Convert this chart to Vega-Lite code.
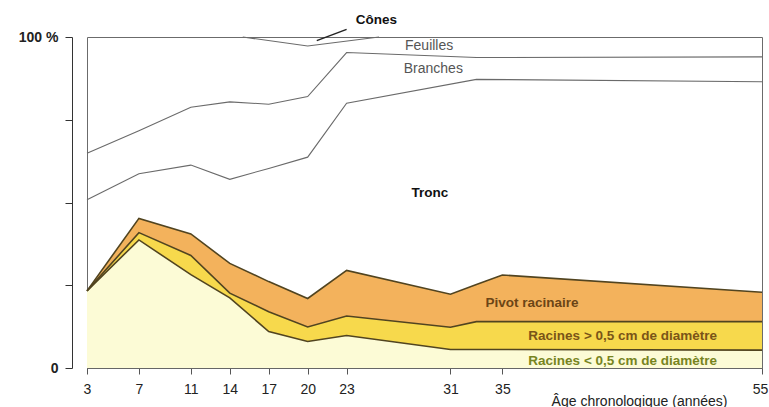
{
  "$schema": "https://vega.github.io/schema/vega-lite/v6.json",
  "width": 675,
  "height": 331,
  "autosize": {"type": "none"},
  "padding": {"left": 87, "top": 37, "right": 7, "bottom": 39},
  "background": "white",
  "config": {
    "view": {"stroke": "#6b6b6b", "strokeWidth": 1},
    "font": "Liberation Sans"
  },
  "datasets": {
    "racines": [
      {"age": 3, "s": "r1", "v": 23.3}, {"age": 7, "s": "r1", "v": 38.7}, {"age": 11, "s": "r1", "v": 28.2},
      {"age": 14, "s": "r1", "v": 21.2}, {"age": 17, "s": "r1", "v": 11.0}, {"age": 20, "s": "r1", "v": 8.0},
      {"age": 23, "s": "r1", "v": 9.8}, {"age": 31, "s": "r1", "v": 5.6}, {"age": 33, "s": "r1", "v": 5.6},
      {"age": 35, "s": "r1", "v": 5.6}, {"age": 55, "s": "r1", "v": 5.4},
      {"age": 3, "s": "r2", "v": 23.3}, {"age": 7, "s": "r2", "v": 40.9}, {"age": 11, "s": "r2", "v": 34.0},
      {"age": 14, "s": "r2", "v": 22.6}, {"age": 17, "s": "r2", "v": 17.0}, {"age": 20, "s": "r2", "v": 12.4},
      {"age": 23, "s": "r2", "v": 15.7}, {"age": 31, "s": "r2", "v": 12.3}, {"age": 33, "s": "r2", "v": 14.0},
      {"age": 35, "s": "r2", "v": 14.0}, {"age": 55, "s": "r2", "v": 14.0},
      {"age": 3, "s": "r3", "v": 23.3}, {"age": 7, "s": "r3", "v": 45.2}, {"age": 11, "s": "r3", "v": 40.5},
      {"age": 14, "s": "r3", "v": 31.6}, {"age": 17, "s": "r3", "v": 26.1}, {"age": 20, "s": "r3", "v": 21.0},
      {"age": 23, "s": "r3", "v": 29.5}, {"age": 31, "s": "r3", "v": 22.3}, {"age": 33, "s": "r3", "v": 25.2},
      {"age": 35, "s": "r3", "v": 28.1}, {"age": 55, "s": "r3", "v": 22.9}
    ],
    "haut": [
      {"age": 3, "s": "tronc", "v": 50.8}, {"age": 7, "s": "tronc", "v": 58.7}, {"age": 11, "s": "tronc", "v": 61.3},
      {"age": 14, "s": "tronc", "v": 57.0}, {"age": 17, "s": "tronc", "v": 60.3}, {"age": 20, "s": "tronc", "v": 63.7},
      {"age": 23, "s": "tronc", "v": 80.0}, {"age": 33, "s": "tronc", "v": 87.2}, {"age": 55, "s": "tronc", "v": 86.5},
      {"age": 3, "s": "branches", "v": 64.9}, {"age": 7, "s": "branches", "v": 71.7}, {"age": 11, "s": "branches", "v": 78.8},
      {"age": 14, "s": "branches", "v": 80.4}, {"age": 17, "s": "branches", "v": 79.7}, {"age": 20, "s": "branches", "v": 82.0},
      {"age": 23, "s": "branches", "v": 95.3}, {"age": 33, "s": "branches", "v": 93.8}, {"age": 55, "s": "branches", "v": 94.0},
      {"age": 15, "s": "cones", "v": 100}, {"age": 20, "s": "cones", "v": 97.3}, {"age": 25.5, "s": "cones", "v": 100}
    ],
    "labels": [
      {"label": "Feuilles", "age": 27.5, "pct": 97.4},
      {"label": "Branches", "age": 27.4, "pct": 90.2},
      {"label": "Tronc", "age": 28.0, "pct": 52.8},
      {"label": "Cônes", "age": 23.7, "pct": 105.1},
      {"label": "Pivot racinaire", "age": 33.7, "pct": 19.5},
      {"label": "Racines > 0,5 cm de diamètre", "age": 37.0, "pct": 9.8},
      {"label": "Racines < 0,5 cm de diamètre", "age": 37.0, "pct": 2.2}
    ],
    "fleche": [
      {"age": 20.7, "pct": 98.9, "age2": 23.0, "pct2": 102.3}
    ]
  },
  "layer": [
    {
      "data": {"name": "racines"},
      "transform": [{"pivot": "s", "value": "v", "groupby": ["age"]}],
      "layer": [
        {
          "mark": {"type": "area", "color": "#fcfbd6"},
          "encoding": {
            "x": {
              "field": "age", "type": "quantitative",
              "scale": {"domain": [3, 55], "nice": false, "zero": false},
              "title": "Âge chronologique (années)",
              "axis": {
                "values": [3, 7, 11, 14, 17, 20, 23, 31, 35, 55],
                "grid": false, "tickSize": 6, "tickColor": "#555", "domainColor": "#666",
                "labelFontSize": 14, "labelColor": "#222", "labelPadding": 8, "labelFlush": false,
                "labelOffset": {"expr": "datum.value == 55 ? -2 : 0"},
                "titleFontSize": 14, "titleFontWeight": "normal", "titleColor": "#222",
                "titleX": 640, "titleY": 33, "titleAlign": "right", "titleBaseline": "middle", "titleAnchor": null
              }
            },
            "y": {
              "field": "r1", "type": "quantitative",
              "scale": {"domain": [0, 100], "nice": false},
              "title": null,
              "axis": {
                "values": [0, 25, 50, 75, 100], "offset": 15, "grid": false,
                "tickSize": 7, "tickColor": "#333", "domainColor": "#333",
                "labelExpr": "datum.value == 100 ? '100 %' : (datum.value == 0 ? '0' : '')",
                "labelFontSize": 14, "labelFontWeight": "bold", "labelColor": "#222", "labelPadding": 7
              }
            },
            "y2": {"datum": 0}
          }
        },
        {
          "mark": {"type": "area", "color": "#f7d94c"},
          "encoding": {
            "x": {"field": "age", "type": "quantitative", "scale": {"domain": [3, 55]}},
            "y": {"field": "r2", "type": "quantitative", "scale": {"domain": [0, 100]}},
            "y2": {"field": "r1"}
          }
        },
        {
          "mark": {"type": "area", "color": "#f3b25c"},
          "encoding": {
            "x": {"field": "age", "type": "quantitative", "scale": {"domain": [3, 55]}},
            "y": {"field": "r3", "type": "quantitative", "scale": {"domain": [0, 100]}},
            "y2": {"field": "r2"}
          }
        }
      ]
    },
    {
      "data": {"name": "racines"},
      "mark": {"type": "line", "color": "#514420", "strokeWidth": 1.6},
      "encoding": {
        "x": {"field": "age", "type": "quantitative", "scale": {"domain": [3, 55]}},
        "y": {"field": "v", "type": "quantitative", "scale": {"domain": [0, 100]}},
        "detail": {"field": "s"}
      }
    },
    {
      "data": {"name": "haut"},
      "mark": {"type": "line", "color": "#6a6a6a", "strokeWidth": 1.1},
      "encoding": {
        "x": {"field": "age", "type": "quantitative", "scale": {"domain": [3, 55]}},
        "y": {"field": "v", "type": "quantitative", "scale": {"domain": [0, 100]}},
        "detail": {"field": "s"}
      }
    },
    {
      "data": {"name": "fleche"},
      "mark": {"type": "rule", "color": "#222", "strokeWidth": 1.5},
      "encoding": {
        "x": {"field": "age", "type": "quantitative", "scale": {"domain": [3, 55]}},
        "y": {"field": "pct", "type": "quantitative", "scale": {"domain": [0, 100]}},
        "x2": {"field": "age2"},
        "y2": {"field": "pct2"}
      }
    },
    {
      "data": {"name": "labels"},
      "transform": [{"filter": "datum.label == 'Feuilles' || datum.label == 'Branches'"}],
      "mark": {"type": "text", "align": "left", "baseline": "middle", "fontSize": 14, "color": "#555"},
      "encoding": {
        "x": {"field": "age", "type": "quantitative", "scale": {"domain": [3, 55]}},
        "y": {"field": "pct", "type": "quantitative", "scale": {"domain": [0, 100]}},
        "text": {"field": "label"}
      }
    },
    {
      "data": {"name": "labels"},
      "transform": [{"filter": "datum.label != 'Feuilles' && datum.label != 'Branches'"}],
      "mark": {"type": "text", "align": "left", "baseline": "middle", "fontSize": 13.5, "fontWeight": "bold"},
      "encoding": {
        "x": {"field": "age", "type": "quantitative", "scale": {"domain": [3, 55]}},
        "y": {"field": "pct", "type": "quantitative", "scale": {"domain": [0, 100]}},
        "text": {"field": "label"},
        "color": {
          "field": "label", "type": "nominal", "legend": null,
          "scale": {
            "domain": ["Tronc", "Cônes", "Pivot racinaire", "Racines > 0,5 cm de diamètre", "Racines < 0,5 cm de diamètre"],
            "range": ["#111111", "#111111", "#6b4516", "#7a5418", "#77841f"]
          }
        }
      }
    }
  ]
}
